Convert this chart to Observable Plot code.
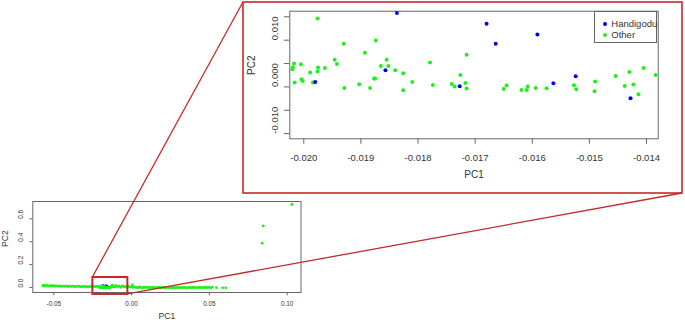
<!DOCTYPE html>
<html><head><meta charset="utf-8">
<script src="https://cdn.jsdelivr.net/npm/d3@7"></script>
<script src="https://cdn.jsdelivr.net/npm/@observablehq/plot@0.6"></script>
<style>
html,body{margin:0;padding:0;background:#fff;}
#wrap{position:relative;width:685px;height:324px;overflow:hidden;font-family:"Liberation Sans",Arial,sans-serif;background:#fff;}
#wrap > svg, #wrap > div{position:absolute;}
.lg-row{position:absolute;left:0;height:10px;line-height:10px;font-size:9.5px;color:#333;white-space:nowrap;}
.lg-dot{position:absolute;width:4px;height:4px;border-radius:50%;}
</style></head><body><div id="wrap"></div>
<script>
// ---- data ----
const seriesNames = ["Handigodu", "Other"];
const seriesColors = ["#0000ff", "#1ef01e"];

// Handigodu points (inside the zoomed region)
const handiX = [-0.01837, -0.01680, -0.01664, -0.01591, -0.01857, -0.01980, -0.01727, -0.01563, -0.01524, -0.01428];
const handiY = [0.01579, 0.01350, 0.00921, 0.01121, 0.00357, 0.00107, 0.00014, 0.00079, 0.00229, -0.00243];

// Other points inside the zoomed region
const otherX = [-0.01976, -0.02020, -0.02019, -0.02017, -0.02005, -0.02016, -0.02004, -0.02002, -0.01989, -0.01984,
  -0.01976, -0.01975, -0.01963, -0.01946, -0.01942, -0.01930, -0.01929, -0.01903, -0.01893, -0.01884,
  -0.01877, -0.01875, -0.01874, -0.01865, -0.01855, -0.01852, -0.01840, -0.01826, -0.01826, -0.01810,
  -0.01779, -0.01774, -0.01741, -0.01736, -0.01726, -0.01717, -0.01715, -0.01715, -0.01650, -0.01645,
  -0.01619, -0.01610, -0.01608, -0.01594, -0.01575, -0.01527, -0.01523, -0.01490, -0.01491, -0.01454,
  -0.01438, -0.01430, -0.01423, -0.01414, -0.01405, -0.01384];
const otherY = [0.01464, 0.00379, 0.00421, 0.00500, 0.00486, 0.00093, 0.00164, 0.00129, 0.00307, 0.00093,
  0.00329, 0.00414, 0.00407, 0.00579, 0.00493, 0.00921, -0.00021, 0.00057, 0.00729, -0.00021,
  0.00179, 0.00179, 0.00993, 0.00450, 0.00579, 0.00450, 0.00357, 0.00293, -0.00071, 0.00107,
  0.00521, 0.00043, 0.00064, 0.00007, 0.00257, 0.00086, -0.00036, 0.00686, -0.00043, 0.00029,
  -0.00064, -0.00064, 0.00007, -0.00021, -0.00029, 0.00036, -0.00050, 0.00114, -0.00093, 0.00236,
  0.00021, 0.00321, 0.00050, -0.00157, 0.00407, 0.00257];

// Other points outside the zoomed region (whole-sample plot)
const bandX = [-0.0570, -0.0565, -0.0560, -0.0550, -0.0540, -0.0530, -0.0520, -0.0510, -0.0500, -0.0490,
  -0.0480, -0.0470, -0.0460, -0.0450, -0.0440, -0.0430, -0.0420, -0.0410, -0.0400, -0.0390,
  -0.0380, -0.0370, -0.0360, -0.0350, -0.0340, -0.0330, -0.0320, -0.0310, -0.0300, -0.0290,
  -0.0280, -0.0270, -0.0260, -0.0250, -0.0240, -0.0230, -0.0220, -0.0210,
  -0.0130, -0.0125, -0.0120, -0.0110, -0.0105, -0.0100, -0.0090, -0.0080, -0.0070, -0.0060,
  -0.0050, -0.0040, -0.0030, -0.0020, -0.0010, 0.0000, 0.0005, 0.0010, 0.0020, 0.0030,
  0.0040, 0.0050, 0.0060, 0.0070, 0.0080, 0.0090, 0.0100, 0.0110, 0.0120, 0.0130,
  0.0140, 0.0150, 0.0160, 0.0170, 0.0180, 0.0190, 0.0200, 0.0210, 0.0220, 0.0230,
  0.0240, 0.0250, 0.0260, 0.0270, 0.0280, 0.0290, 0.0300, 0.0310, 0.0320, 0.0330,
  0.0340, 0.0350, 0.0360, 0.0370, 0.0380, 0.0390, 0.0400, 0.0410, 0.0420, 0.0430,
  0.0440, 0.0450, 0.0460, 0.0470, 0.0480, 0.0490, 0.0500, 0.0510, 0.0520, 0.0545,
  0.0585, 0.0605, 0.0839, 0.0846, 0.1030];
const bandY = [0.017, 0.013, 0.019, 0.015, 0.018, 0.012, 0.016, 0.013, 0.015, 0.011,
  0.014, 0.010, 0.013, 0.009, 0.012, 0.010, 0.013, 0.008, 0.011, 0.009,
  0.012, 0.007, 0.010, 0.008, 0.011, 0.006, 0.009, 0.007, 0.010, 0.005,
  0.008, 0.006, 0.011, 0.004, 0.009, 0.006, 0.012, 0.005,
  0.009, 0.021, 0.005, 0.012, 0.003, 0.016, 0.007, 0.011, 0.002, 0.014,
  0.005, 0.009, 0.001, 0.012, 0.003, 0.007, 0.022, 0.000, 0.004, 0.001,
  -0.002, 0.004, 0.000, -0.003, 0.002, -0.001, 0.002, -0.003, 0.001, -0.002,
  0.002, -0.003, 0.000, -0.002, 0.002, -0.003, 0.001, -0.001, -0.003, 0.001,
  -0.002, 0.000, -0.003, 0.001, -0.003, -0.001, 0.001, -0.003, 0.000, -0.002,
  0.001, -0.003, -0.001, 0.001, -0.003, 0.000, -0.002, 0.001, -0.003, -0.001,
  0.001, -0.003, 0.000, -0.002, 0.002, -0.001, 0.001, -0.003, 0.003, -0.002,
  -0.003, -0.003, 0.387, 0.538, 0.725];

// axes
const mainXTicks = [-0.05, 0, 0.05, 0.10];
const mainXLabels = ["-0.05", "0.00", "0.05", "0.10"];
const mainYTicks = [0, 0.2, 0.4, 0.6];
const mainYLabels = ["0.0", "0.2", "0.4", "0.6"];
const insetXTicks = [-0.020, -0.019, -0.018, -0.017, -0.016, -0.015, -0.014];
const insetXLabels = ["-0.020", "-0.019", "-0.018", "-0.017", "-0.016", "-0.015", "-0.014"];
const insetYTicks = [-0.010, -0.005, 0, 0.005, 0.010, 0.015];
const insetYLabelTicks = [-0.010, 0, 0.010];
const insetYLabels = ["-0.010", "0.000", "0.010"];
const xTitle = "PC1", yTitle = "PC2";
// zoom window drawn on the overview (data units)
const zoomBox = {x1: -0.0249, x2: -0.0024, y1: -0.061, y2: 0.087};

// ---- build tables ----
const handi = handiX.map((x, i) => ({x, y: handiY[i]}));
const otherIn = otherX.map((x, i) => ({x, y: otherY[i]}));
const band = bandX.map((x, i) => ({x, y: bandY[i]}));
const other = otherIn.concat(band);
const lab = (ticks, labels) => { const m = new Map(ticks.map((t, i) => [t, labels[i]])); return d => m.get(d) ?? ""; };

const wrap = document.getElementById("wrap");
const font = '"Liberation Sans", Arial, sans-serif';
const axisCol = "#666", textCol = "#333", red = "#c42a2a";

// ---- overview plot ----
const M = {left: 0, top: 195, w: 310, h: 129};
const mainPlot = Plot.plot({
  width: M.w, height: M.h,
  marginLeft: 32.3, marginRight: 9.5, marginTop: 6, marginBottom: 32,
  x: {domain: [-0.0635, 0.1089], label: null},
  y: {domain: [-0.044, 0.751], label: null},
  style: {fontFamily: font, fontSize: "6.4px", color: textCol, background: "transparent", overflow: "visible"},
  marks: [
    Plot.axisX({ticks: mainXTicks, tickFormat: lab(mainXTicks, mainXLabels), tickSize: 3.3, tickPadding: 5.7, stroke: axisCol, fill: textCol, label: null}),
    Plot.axisY({ticks: mainYTicks, tickFormat: () => "", tickSize: 3, stroke: axisCol, label: null}),
    Plot.text(mainYTicks, {y: d => d, text: lab(mainYTicks, mainYLabels), frameAnchor: "left", rotate: -90, dx: -11.6, fill: textCol, fontSize: 6.4}),
    Plot.text([xTitle], {text: d => d, frameAnchor: "bottom", dy: 26.3, fill: textCol, fontSize: 8.6}),
    Plot.text([yTitle], {text: d => d, frameAnchor: "left", rotate: -90, dx: -27.3, fill: textCol, fontSize: 8.6}),
    Plot.frame({stroke: axisCol}),
    Plot.dot(band, {x: "x", y: "y", r: 1.4, fill: seriesColors[1], stroke: "none"}),
    Plot.dot(handi, {x: "x", y: "y", r: 1.4, fill: seriesColors[0], stroke: "none"}),
    Plot.dot(otherIn, {x: "x", y: "y", r: 1.4, fill: seriesColors[1], stroke: "none"}),
    Plot.rect([zoomBox], {x1: "x1", x2: "x2", y1: "y1", y2: "y2", fill: "none", stroke: red, strokeWidth: 2})
  ]
});
mainPlot.style.left = M.left + "px";
mainPlot.style.top = M.top + "px";
wrap.appendChild(mainPlot);

// ---- zoomed plot ----
const I = {left: 243, top: 2, w: 439, h: 191};
const insetPlot = Plot.plot({
  width: I.w, height: I.h,
  marginLeft: 46.3, marginRight: 24.3, marginTop: 8.7, marginBottom: 54.7,
  x: {domain: [-0.020245, -0.013795], label: null},
  y: {domain: [-0.0111, 0.0162], label: null},
  style: {fontFamily: font, fontSize: "9.5px", color: textCol, background: "transparent"},
  marks: [
    Plot.axisX({ticks: insetXTicks, tickFormat: lab(insetXTicks, insetXLabels), tickSize: 5.5, tickPadding: 9.5, stroke: axisCol, fill: textCol, label: null}),
    Plot.axisY({ticks: insetYTicks, tickFormat: () => "", tickSize: 5.5, stroke: axisCol, label: null}),
    Plot.text(insetYLabelTicks, {y: d => d, text: lab(insetYLabelTicks, insetYLabels), frameAnchor: "left", rotate: -90, dx: -15.2, fill: textCol, fontSize: 9.5}),
    Plot.text([xTitle], {text: d => d, frameAnchor: "bottom", dy: 38.7, fill: textCol, fontSize: 10}),
    Plot.text([yTitle], {text: d => d, frameAnchor: "left", rotate: -90, dx: -37.6, fill: textCol, fontSize: 10}),
    Plot.frame({stroke: axisCol}),
    Plot.dot(other, {x: "x", y: "y", r: 2, fill: seriesColors[1], stroke: "none", clip: true}),
    Plot.dot(handi, {x: "x", y: "y", r: 2, fill: seriesColors[0], stroke: "none", clip: true})
  ]
});
insetPlot.style.left = I.left + "px";
insetPlot.style.top = I.top + "px";
wrap.appendChild(insetPlot);

// ---- legend (inside zoomed plot, top-right) ----
const lg = document.createElement("div");
Object.assign(lg.style, {left: "594.3px", top: "10.7px", width: "63px", height: "32.5px", border: "1px solid " + axisCol, background: "#fff", boxSizing: "border-box"});
seriesNames.forEach((name, i) => {
  const row = document.createElement("div");
  row.className = "lg-row";
  row.style.top = (7.5 + i * 10.4) + "px";
  const dot = document.createElement("span");
  dot.className = "lg-dot";
  Object.assign(dot.style, {left: "7.7px", top: "3px", background: seriesColors[i]});
  const t = document.createElement("span");
  t.textContent = name;
  Object.assign(t.style, {position: "absolute", left: "16px", top: "0px"});
  row.appendChild(dot); row.appendChild(t);
  lg.appendChild(row);
});
wrap.appendChild(lg);

// ---- connectors & inset border ----
const mx = mainPlot.scale("x"), my = mainPlot.scale("y");
const tl = [M.left + mx.apply(zoomBox.x1), M.top + my.apply(zoomBox.y2)];
const br = [M.left + mx.apply(zoomBox.x2), M.top + my.apply(zoomBox.y1)];
const ov = d3.create("svg").attr("width", 685).attr("height", 324).style("left", "0px").style("top", "0px").style("pointer-events", "none");
ov.append("rect").attr("x", I.left).attr("y", I.top).attr("width", I.w).attr("height", I.h)
  .attr("fill", "none").attr("stroke", red).attr("stroke-width", 1.6);
ov.append("line").attr("x1", tl[0]).attr("y1", tl[1]).attr("x2", I.left).attr("y2", I.top)
  .attr("stroke", red).attr("stroke-width", 1.3);
ov.append("line").attr("x1", br[0]).attr("y1", br[1]).attr("x2", I.left + I.w).attr("y2", I.top + I.h)
  .attr("stroke", red).attr("stroke-width", 1.3);
wrap.appendChild(ov.node());
</script></body></html>
